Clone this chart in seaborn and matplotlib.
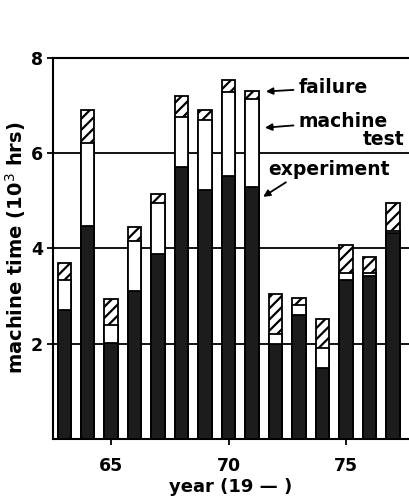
import matplotlib
matplotlib.use("Agg")
import matplotlib.pyplot as plt
import seaborn as sns
import numpy as np
import pandas as pd

years = [63, 64, 65, 66, 67, 68, 69, 70, 71, 72, 73, 74, 75, 76, 77]
experiment = [2.70, 4.47, 2.01, 3.11, 3.88, 5.71, 5.23, 5.51, 5.29, 1.99, 2.60, 1.49, 3.33, 3.42, 4.31]
machine_test = [0.63, 1.74, 0.37, 1.05, 1.06, 1.05, 1.46, 1.77, 1.85, 0.20, 0.21, 0.41, 0.16, 0.07, 0.06]
failure = [0.37, 0.69, 0.56, 0.29, 0.20, 0.43, 0.22, 0.25, 0.16, 0.86, 0.15, 0.62, 0.58, 0.32, 0.59]

sns.set_style("ticks")
plt.rcParams['font.family'] = ['DejaVu Sans']
plt.rcParams['hatch.linewidth'] = 1.6
plt.rcParams['text.color'] = 'black'
plt.rcParams['axes.labelcolor'] = 'black'
plt.rcParams['xtick.color'] = 'black'
plt.rcParams['ytick.color'] = 'black'
plt.rcParams['axes.edgecolor'] = 'black'

df = pd.DataFrame({"year": years, "exp": experiment, "test": machine_test, "fail": failure})
df["exp_test"] = df["exp"] + df["test"]
df["total"] = df["exp_test"] + df["fail"]

fig = plt.figure(figsize=(4.09, 4.97), dpi=100)
ax = fig.add_axes([0.13, 0.117, 0.87, 0.767])

for yv in (2, 4, 6):
    ax.axhline(yv, color="black", lw=1.3, zorder=0.5)

kw = dict(native_scale=True, width=0.57, edgecolor="black", linewidth=1.3,
          errorbar=None, ax=ax)
sns.barplot(data=df, x="year", y="total", color="white", hatch="///", zorder=2, **kw)
sns.barplot(data=df, x="year", y="exp_test", color="white", zorder=3, **kw)
sns.barplot(data=df, x="year", y="exp", color="#1c1c1c", zorder=4, **kw)

ax.set_xlim(62.53, 77.68)
ax.set_ylim(0, 8)
ax.set_xticks([65, 70, 75])
ax.set_yticks([2, 4, 6, 8])
ax.tick_params(axis="both", direction="out", length=4, width=1.3, labelsize=12.5)
ax.tick_params(axis="x", pad=9)
for lab in ax.get_xticklabels() + ax.get_yticklabels():
    lab.set_fontweight("bold")
ax.set_xlabel("year (19 — )", fontsize=13, fontweight="bold", labelpad=2)
ax.set_ylabel("machine time (10$^3$ hrs)", fontsize=14, fontweight="bold", labelpad=2)
ax.spines["right"].set_visible(False)
for s in ["left", "bottom", "top"]:
    ax.spines[s].set_linewidth(1.5)

arrow = dict(arrowstyle="-|>", color="black", lw=1.3, mutation_scale=10,
             shrinkA=1, shrinkB=0)
ax.annotate("failure", xy=(71.59, 7.29), xytext=(72.96, 7.37),
            fontsize=13.5, fontweight="bold", va="center", ha="left",
            arrowprops=arrow, annotation_clip=False)
ax.annotate("machine", xy=(71.55, 6.53), xytext=(72.96, 6.66),
            fontsize=13.5, fontweight="bold", va="center", ha="left",
            arrowprops=arrow, annotation_clip=False)
ax.text(77.5, 6.28, "test", fontsize=13.5, fontweight="bold", va="center", ha="right")
ax.text(71.68, 5.65, "experiment", fontsize=13.5, fontweight="bold", va="center", ha="left")
ax.annotate("", xy=(71.47, 5.08), xytext=(72.49, 5.40),
            arrowprops=arrow, annotation_clip=False)

fig.savefig("out.png", dpi=100)
